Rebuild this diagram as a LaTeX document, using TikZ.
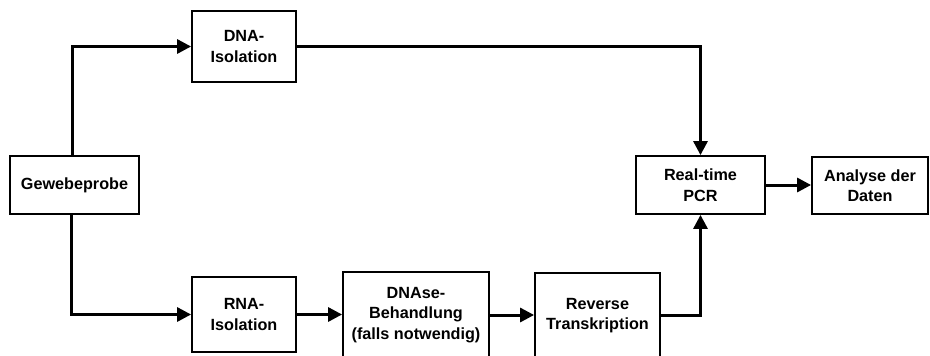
\documentclass[tikz,border=0pt]{standalone}
\usepackage{fontspec}
\setmainfont{Liberation Sans}
\usetikzlibrary{arrows.meta}
\begin{document}
\begin{tikzpicture}[x=1pt,y=-1pt,
  box/.style={draw=black,line width=1.8pt,fill=white,rectangle,align=center,inner sep=0pt,
    font=\fontsize{16.2}{20.5}\selectfont\bfseries},
  arr/.style={line width=3pt,-{Triangle[length=14pt,width=14pt]}},
  ln/.style={line width=3pt}]
\useasboundingbox (0,0) rectangle (930,356);
\clip (0,0) rectangle (930,356);
\node[box,minimum width=129pt,minimum height=58pt] (gew) at (74.5,185) {Gewebeprobe};
\node[box,minimum width=104pt,minimum height=71pt] (dna) at (244,46.5) {DNA-\\Isolation};
\node[box,minimum width=104pt,minimum height=75pt] (rna) at (244,314.5) {RNA-\\Isolation};
\node[box,minimum width=146pt,minimum height=86pt] (dnase) at (416,315) {DNAse-\\Behandlung\\(falls notwendig)};
\node[box,minimum width=125pt,minimum height=85pt] (rt) at (597.5,315.5) {Reverse\\Transkription};
\node[box,minimum width=129pt,minimum height=58pt] (pcr) at (700.5,185) {Real-time\\PCR};
\node[box,minimum width=116pt,minimum height=57pt] (ana) at (870,185.5) {Analyse der\\Daten};
\draw[arr] ([xshift=-2pt]gew.north) |- (dna.west);
\draw[arr] ([xshift=-3pt]gew.south) |- (rna.west);
\draw[arr] (dna.east) -| (pcr.north);
\draw[arr] (rna.east) -- (rna.east -| dnase.west);
\draw[arr] (dnase.east) -- (dnase.east -| rt.west);
\draw[arr] (rt.east) -| (pcr.south);
\draw[arr] (pcr.east) -- (pcr.east -| ana.west);
\end{tikzpicture}
\end{document}
